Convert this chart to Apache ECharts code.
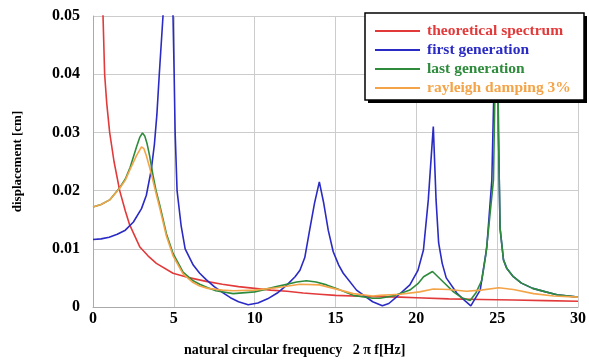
<!DOCTYPE html>
<html><head><meta charset="utf-8">
<script src="https://cdn.jsdelivr.net/npm/echarts@6/dist/echarts.min.js"></script>
<style>html,body{margin:0;padding:0;background:#fff}#c{width:589px;height:360px}</style>
</head><body><div id="c"></div>
<script>
var seriesNames = ['theoretical spectrum', 'first generation', 'last generation', 'rayleigh damping 3%'];
var xTicks = [0, 5, 10, 15, 20, 25, 30];
var yTicks = [0, 0.01, 0.02, 0.03, 0.04, 0.05];

var theoretical = [[0.5,0.06],[0.62,0.05],[0.72,0.04],[0.85,0.035],[1.03,0.03],[1.3,0.025],[1.65,0.02],[2.0,0.0165],[2.27,0.0141],[2.9,0.0103],[3.4,0.0088],[3.92,0.0075],[4.95,0.0058],[6,0.005],[7,0.0044],[8,0.0039],[9,0.0035],[10,0.0032],[11,0.0029],[12,0.0027],[13,0.0024],[14,0.0022],[15,0.002],[17,0.0018],[19,0.0017],[20,0.0016],[22,0.0014],[24,0.0013],[26,0.0012],[28,0.0011],[30,0.001]];

var firstGen = [[0,0.0116],[0.5,0.0117],[1,0.012],[1.5,0.0125],[2,0.0132],[2.5,0.0146],[3,0.0169],[3.3,0.0192],[3.6,0.0235],[3.8,0.028],[3.95,0.033],[4.1,0.04],[4.33,0.05],[4.5,0.065],[4.65,0.09],[4.8,0.065],[4.95,0.05],[5.02,0.04],[5.08,0.03],[5.2,0.02],[5.45,0.014],[5.7,0.01],[6.2,0.0072],[6.6,0.0058],[7,0.0047],[7.5,0.0035],[8,0.0025],[8.5,0.0016],[9,0.0009],[9.6,0.0004],[10.2,0.0007],[10.8,0.0014],[11.4,0.0024],[12,0.0038],[12.5,0.0052],[12.8,0.0063],[13.1,0.0085],[13.4,0.0132],[13.7,0.0178],[14,0.0215],[14.26,0.018],[14.55,0.0132],[14.86,0.0095],[15.2,0.0072],[15.48,0.0058],[16.3,0.0029],[17.3,0.0009],[17.9,0.0002],[18.3,0.0006],[18.8,0.0018],[19.6,0.0038],[20.1,0.0063],[20.44,0.0098],[20.74,0.0184],[20.95,0.027],[21.05,0.031],[21.22,0.0184],[21.38,0.011],[21.6,0.0075],[21.85,0.005],[22.5,0.0024],[23.0,0.0011],[23.37,0.0002],[23.95,0.0029],[24.36,0.0103],[24.67,0.0218],[24.82,0.04],[24.95,0.07],[25.08,0.03],[25.18,0.0135],[25.39,0.0081],[25.6,0.0066],[26.0,0.0052],[26.5,0.0041],[27.2,0.0032],[28,0.0026],[28.7,0.0021],[30,0.0017]];

var lastGen = [[0,0.0172],[0.5,0.0176],[1.03,0.0184],[1.65,0.0205],[2.0,0.022],[2.3,0.024],[2.69,0.0275],[2.9,0.0292],[3.06,0.0299],[3.2,0.0294],[3.35,0.028],[3.5,0.026],[3.7,0.0228],[3.9,0.02],[4.13,0.0175],[4.54,0.0126],[4.95,0.0092],[5.57,0.006],[6.19,0.0045],[6.6,0.0039],[7.1,0.0033],[7.6,0.0028],[8.67,0.0023],[10,0.0026],[11.35,0.0035],[12.6,0.0043],[13.2,0.0045],[13.8,0.0043],[14.45,0.0038],[15.3,0.0029],[16.1,0.002],[17.3,0.0015],[17.75,0.0015],[18.7,0.002],[19.6,0.0029],[20.1,0.004],[20.45,0.0052],[21.0,0.0061],[21.67,0.0043],[22.3,0.0026],[22.8,0.0016],[23.33,0.0011],[23.7,0.0025],[24.05,0.0046],[24.3,0.009],[24.46,0.0132],[24.77,0.0218],[24.88,0.04],[24.97,0.065],[25.08,0.03],[25.18,0.0135],[25.39,0.0081],[25.6,0.0066],[26.0,0.0052],[26.5,0.0041],[27.2,0.0032],[28,0.0026],[28.7,0.0021],[30,0.0017]];

var rayleigh = [[0,0.0172],[0.5,0.0176],[1.03,0.0184],[1.65,0.0204],[2.0,0.0218],[2.27,0.0235],[2.69,0.026],[3.0,0.0275],[3.15,0.0272],[3.3,0.026],[3.5,0.024],[3.7,0.0218],[3.9,0.0195],[4.13,0.017],[4.54,0.0122],[4.95,0.0088],[5.57,0.0057],[6.19,0.0042],[6.6,0.0036],[7.1,0.0032],[8,0.0029],[8.67,0.0028],[10,0.0029],[11.35,0.0033],[12.8,0.0039],[14,0.0038],[15.3,0.0029],[16.1,0.0023],[17.3,0.0019],[17.75,0.002],[19,0.0022],[20.2,0.0026],[21.05,0.0031],[22,0.003],[23.1,0.0027],[24,0.0029],[25.1,0.0033],[26,0.003],[27.25,0.0023],[28.5,0.0019],[30,0.0017]];

var colors = ['#e23a3a', '#2a2ac4', '#2e8b3c', '#f4a448'];
var dataSets = [theoretical, firstGen, lastGen, rayleigh];
var serif = '"Liberation Serif", "DejaVu Serif", serif';

var chart = echarts.init(document.getElementById('c'), null, {renderer: 'canvas'});
chart.setOption({
  animation: false,
  backgroundColor: '#fff',
  grid: {left: 93, right: 11, top: 16, bottom: 53, containLabel: false},
  xAxis: {
    type: 'value', min: xTicks[0], max: xTicks[xTicks.length - 1], interval: 5,
    axisLine: {show: true, lineStyle: {color: '#aaa', width: 1}},
    axisTick: {show: false},
    axisLabel: {color: '#000', fontFamily: serif, fontWeight: 'bold', fontSize: 16, margin: 4},
    splitLine: {show: true, lineStyle: {color: '#ccc', width: 1}}
  },
  yAxis: {
    type: 'value', min: yTicks[0], max: yTicks[yTicks.length - 1], interval: 0.01,
    name: 'displacement [cm]', nameLocation: 'middle', nameGap: 69,
    nameTextStyle: {color: '#000', fontFamily: serif, fontWeight: 'bold', fontSize: 13},
    axisLine: {show: true, lineStyle: {color: '#aaa', width: 1}},
    axisTick: {show: false},
    axisLabel: {color: '#000', fontFamily: serif, fontWeight: 'bold', fontSize: 16, margin: 13,
      formatter: function (v) { return v === 0 ? '0' : v.toFixed(2); }},
    splitLine: {show: true, lineStyle: {color: '#ccc', width: 1}}
  },
  graphic: [
    {type: 'rect', z: 10, shape: {x: 368, y: 16, width: 219, height: 87}, style: {fill: '#000'}},
    {type: 'rect', z: 11, shape: {x: 365, y: 13, width: 219, height: 87}, style: {fill: '#fff', stroke: '#000', lineWidth: 1.5}},
    {type: 'text', left: 184, top: 343,
      style: {text: 'natural circular frequency   2 \u03c0 f[Hz]', fill: '#000',
        font: 'bold 14px "Liberation Serif", "DejaVu Serif", serif'}}
  ],
  legend: {
    orient: 'vertical', left: 365, top: 15, z: 20,
    padding: [8, 10, 8, 10], itemGap: 3, itemWidth: 45, itemHeight: 2, icon: 'rect',
    textStyle: {fontFamily: serif, fontWeight: 'bold', fontSize: 15.5, lineHeight: 15.5, padding: [0, 0, 0, 2]},
    data: seriesNames.map(function (n, i) { return {name: n, textStyle: {color: colors[i]}}; })
  },
  series: seriesNames.map(function (n, i) {
    return {name: n, type: 'line', data: dataSets[i], showSymbol: false, symbol: 'none',
      clip: true, smooth: false, color: colors[i],
      lineStyle: {color: colors[i], width: 1.6}};
  })
});
</script></body></html>
